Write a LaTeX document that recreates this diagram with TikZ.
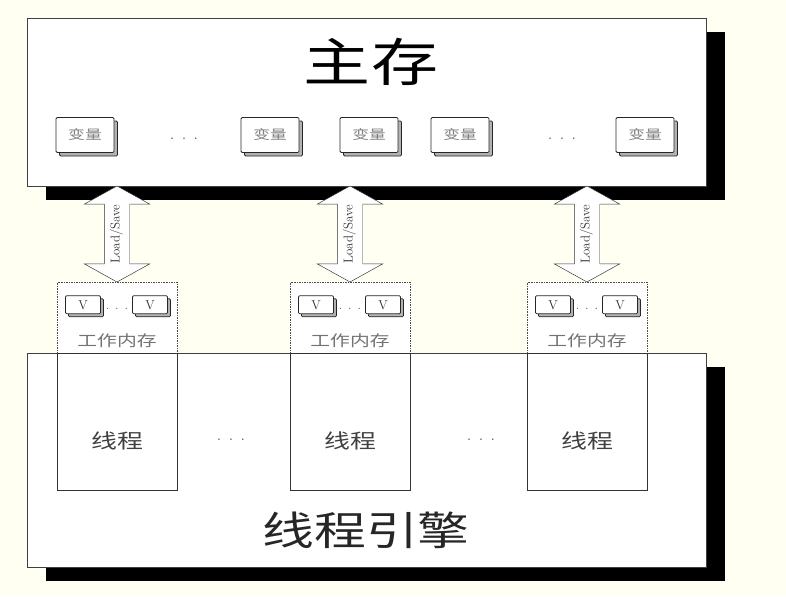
\documentclass[tikz,border=0pt]{standalone}
\usepackage{fontspec}
\usepackage{graphicx}
\newfontfamily\cjk{Noto Sans CJK SC}
\usetikzlibrary{positioning, calc, shadows, shapes.arrows}
\definecolor{cream}{RGB}{255,255,242}
\def\px{0.3mm}
\newcommand{\stretched}[1]{\scalebox{1.3}[1]{#1}}
\newcommand{\spreaddots}{.\hspace{0.45em}.\hspace{0.45em}.}

\tikzset{
  bigbox/.style={draw=black!75, fill=white, inner sep=0pt,
    general shadow={shadow xshift=19*\px, shadow yshift=-14*\px, fill=black}},
  varbox/.style={draw=black!85, line width=0.7pt, fill=white, rounded corners=1pt,
    minimum width=58*\px, minimum height=35*\px, inner sep=0pt,
    font=\cjk\fontsize{11}{11}\selectfont, text=black!50,
    general shadow={shadow xshift=3.5*\px, shadow yshift=-3.5*\px, fill=gray!60, draw=black!85, rounded corners=1pt}},
  vbox/.style={draw=black!85, line width=0.6pt, fill=white, rounded corners=1pt,
    minimum width=35*\px, minimum height=18*\px, inner sep=0pt,
    font=\fontsize{11}{11}\selectfont, text=black!80,
    general shadow={shadow xshift=3*\px, shadow yshift=-3*\px, fill=gray!60, draw=black!85, rounded corners=1pt}},
  wmbox/.style={draw=black!70, densely dotted, fill=white,
    minimum width=120*\px, minimum height=71*\px, inner sep=0pt},
  threadbox/.style={draw=black!80, fill=white,
    minimum width=120*\px, minimum height=137*\px, inner sep=0pt},
  dots/.style={font=\fontsize{14}{14}\selectfont, text=black!65, inner sep=0pt},
  smalltext/.style={font=\cjk\fontsize{13}{13}\selectfont, text=black!55},
  loadsave/.style={double arrow, draw=black!80, fill=white, rotate=90,
    minimum height=96*\px, inner xsep=0pt, inner ysep=2.5mm,
    text height=2mm, text depth=0.5mm,
    double arrow head extend=20*\px, double arrow tip angle=122,
    font=\fontsize{11}{11}\selectfont, text=black!80}
}

\begin{document}
\begin{tikzpicture}[x=\px, y=-\px]
  \fill[cream] (0,0) rectangle (786,596);
  \useasboundingbox (0,0) rectangle (786,596);

  % main memory
  \node[bigbox, minimum width=679*\px, minimum height=168*\px] (mem) at (366.5,102) {};
  \node[font=\cjk\fontsize{44}{44}\selectfont] (memtitle) at (371,62) {\stretched{主存}};
  \foreach \vx/\vn in {85/1, 270/2, 369/3, 460/4, 645/5}
    \node[varbox] (var\vn) at (\vx,135) {\stretched{变量}};
  \node[dots] (mdots1) at (184,139) {\spreaddots};
  \node[dots] (mdots2) at (562,139) {\spreaddots};

  % thread engine
  \node[bigbox, minimum width=679*\px, minimum height=214*\px] (eng) at (366.5,460) {};
  \node[font=\cjk\fontsize{34}{34}\selectfont, text=black!85] (engtitle) at (366,530) {\stretched{线程引擎}};
  \node[dots] (tdots1) at (231,440) {\spreaddots};
  \node[dots] (tdots2) at (481,440) {\spreaddots};

  % threads with their working memory
  \foreach \tx/\tn in {117/1, 350/2, 587/3}{
    \node[wmbox] (wm\tn) at (\tx,317.5) {};
    \node[threadbox, below=0pt of wm\tn] (thr\tn) {};
    \node[smalltext, font=\cjk\fontsize{17}{17}\selectfont, text=black!75] (thrl\tn) at ($(thr\tn.north)+(0,88)$) {\stretched{线程}};
    \node[vbox] (va\tn) at ($(wm\tn.north)+(-34,23)$) {V};
    \node[vbox] (vb\tn) at ($(wm\tn.north)+(33,23)$) {V};
    \node[dots, font=\fontsize{11}{11}\selectfont] (wdots\tn) at ($(wm\tn.north)+(0,27)$) {\spreaddots};
    \node[smalltext] (wml\tn) at ($(wm\tn.north)+(0,59)$) {\stretched{工作内存}};
    \node[loadsave] (ls\tn) at ($(wm\tn.north)!0.5!(wm\tn.north |- mem.south)$) {Load/Save};
  }
\end{tikzpicture}
\end{document}
